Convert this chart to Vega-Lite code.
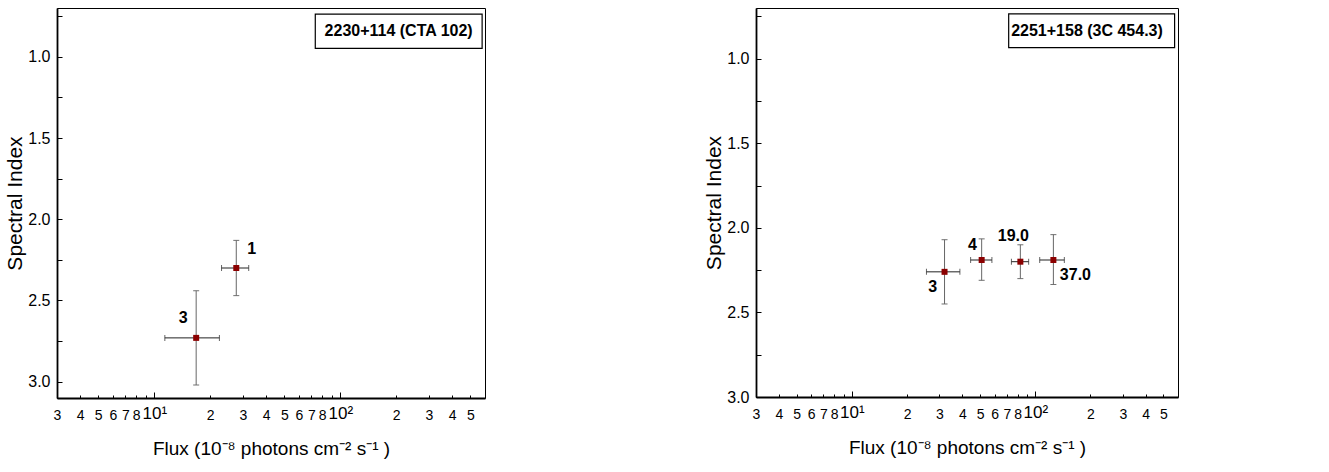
{
  "$schema": "https://vega.github.io/schema/vega-lite/v6.json",
  "background": "white",
  "padding": {"left": 4, "top": 7, "right": 5, "bottom": 5},
  "spacing": 217,
  "config": {
    "view": {"stroke": "black", "strokeWidth": 1},
    "font": "Liberation Sans",
    "axis": {
      "grid": false, "domainColor": "black", "domainWidth": 1.8, "tickColor": "black", "tickWidth": 1,
      "labelColor": "black", "titleColor": "black", "labelFont": "Liberation Sans", "titleFont": "Liberation Sans",
      "titleFontWeight": "normal", "labelOverlap": false, "labelFlush": false
    },
    "axisX": {"titleFontSize": 19, "titlePadding": 17, "labelPadding": 13},
    "axisY": {"titleFontSize": 21, "titlePadding": 2, "labelPadding": 12, "labelFontSize": 16, "tickSize": -5}
  },
  "datasets": {
    "cta": [
      {"flux": 27.6, "flux_lo": 23.0, "flux_hi": 32.2, "index": 2.30, "idx_lo": 2.13, "idx_hi": 2.47, "label": "1", "lx": 33.4, "ly": 2.18},
      {"flux": 16.8, "flux_lo": 11.4, "flux_hi": 22.4, "index": 2.73, "idx_lo": 2.44, "idx_hi": 3.02, "label": "3", "lx": 14.3, "ly": 2.61}
    ],
    "c3": [
      {"flux": 32.0, "flux_lo": 25.5, "flux_hi": 38.8, "index": 2.26, "idx_lo": 2.07, "idx_hi": 2.45, "label": "3", "lx": 27.6, "ly": 2.35},
      {"flux": 51.0, "flux_lo": 44.4, "flux_hi": 58.0, "index": 2.19, "idx_lo": 2.065, "idx_hi": 2.31, "label": "4", "lx": 45.4, "ly": 2.10},
      {"flux": 82.9, "flux_lo": 74.1, "flux_hi": 92.0, "index": 2.20, "idx_lo": 2.10, "idx_hi": 2.30, "label": "19.0", "lx": 75.9, "ly": 2.05},
      {"flux": 125.5, "flux_lo": 105.7, "flux_hi": 144.0, "index": 2.19, "idx_lo": 2.04, "idx_hi": 2.335, "label": "37.0", "lx": 165.5, "ly": 2.28}
    ],
    "box1": [{"name": "2230+114 (CTA 102)", "bx1": 73.4, "bx2": 579, "by1": 0.738, "by2": 0.948, "tx": 206, "ty": 0.843}],
    "box2": [{"name": "2251+158 (3C 454.3)", "bx1": 71.6, "bx2": 575, "by1": 0.735, "by2": 0.934, "tx": 191.4, "ty": 0.835}]
  },
  "hconcat": [
    {
      "width": 428, "height": 390,
      "layer": [
        {
          "data": {"name": "cta"},
          "mark": {"type": "errorbar", "color": "#222", "ticks": {"size": 6, "color": "#222"}},
          "encoding": {
            "x": {"field": "flux_lo", "type": "quantitative", "title": "Flux  (10⁻⁸ photons  cm⁻² s⁻¹ )",
              "scale": {"type": "log", "domain": [3, 600], "nice": false},
              "axis": {
                "values": [3,4,5,6,7,8,9,10,20,30,40,50,60,70,80,90,100,200,300,400,500],
                "labelExpr": "datum.value == 10 ? '10¹' : datum.value == 100 ? '10²' : (datum.value == 9 || datum.value == 90) ? '' : toString(round(datum.value / pow(10, floor(log(datum.value) / LN10 + 1e-9))))",
                "labelFontSize": {"condition": {"test": "datum.value == 10 || datum.value == 100", "value": 17}, "value": 14},
                "tickSize": {"condition": {"test": "datum.value == 10 || datum.value == 100", "value": -6}, "value": -3}
              }
            },
            "x2": {"field": "flux_hi"},
            "y": {"field": "index", "type": "quantitative", "title": "Spectral Index",
              "scale": {"domain": [0.7, 3.1], "reverse": true, "zero": false, "nice": false},
              "axis": {
                "values": [0.75,1,1.25,1.5,1.75,2,2.25,2.5,2.75,3],
                "labelExpr": "datum.value * 2 % 1 == 0 ? format(datum.value, '.1f') : ''"
              }
            }
          }
        },
        {
          "data": {"name": "cta"},
          "mark": {"type": "errorbar", "color": "#666", "ticks": {"size": 6, "color": "#333"}},
          "encoding": {
            "y": {"field": "idx_lo", "type": "quantitative", "title": "Spectral Index", "scale": {"domain": [0.7, 3.1], "reverse": true, "zero": false, "nice": false}},
            "y2": {"field": "idx_hi"},
            "x": {"field": "flux", "type": "quantitative", "title": "Flux  (10⁻⁸ photons  cm⁻² s⁻¹ )", "scale": {"type": "log", "domain": [3, 600], "nice": false}}
          }
        },
        {
          "data": {"name": "cta"},
          "mark": {"type": "point", "shape": "square", "filled": true, "color": "#8B0000", "size": 36, "opacity": 1},
          "encoding": {
            "x": {"field": "flux", "type": "quantitative", "title": "Flux  (10⁻⁸ photons  cm⁻² s⁻¹ )", "scale": {"type": "log", "domain": [3, 600], "nice": false}},
            "y": {"field": "index", "type": "quantitative", "title": "Spectral Index", "scale": {"domain": [0.7, 3.1], "reverse": true, "zero": false, "nice": false}}
          }
        },
        {
          "data": {"name": "cta"},
          "mark": {"type": "text", "fontWeight": "bold", "fontSize": 16, "align": "center", "baseline": "middle", "color": "black"},
          "encoding": {
            "x": {"field": "lx", "type": "quantitative", "title": "Flux  (10⁻⁸ photons  cm⁻² s⁻¹ )", "scale": {"type": "log", "domain": [3, 600], "nice": false}},
            "y": {"field": "ly", "type": "quantitative", "title": "Spectral Index", "scale": {"domain": [0.7, 3.1], "reverse": true, "zero": false, "nice": false}},
            "text": {"field": "label"}
          }
        },
        {
          "data": {"name": "box1"},
          "mark": {"type": "rect", "fill": "white", "stroke": "black", "strokeWidth": 1.2},
          "encoding": {
            "x": {"field": "bx1", "type": "quantitative", "title": "Flux  (10⁻⁸ photons  cm⁻² s⁻¹ )", "scale": {"type": "log", "domain": [3, 600], "nice": false}},
            "x2": {"field": "bx2"},
            "y": {"field": "by1", "type": "quantitative", "title": "Spectral Index", "scale": {"domain": [0.7, 3.1], "reverse": true, "zero": false, "nice": false}},
            "y2": {"field": "by2"}
          }
        },
        {
          "data": {"name": "box1"},
          "mark": {"type": "text", "fontWeight": "bold", "fontSize": 16, "align": "center", "baseline": "middle", "color": "black"},
          "encoding": {
            "x": {"field": "tx", "type": "quantitative", "title": "Flux  (10⁻⁸ photons  cm⁻² s⁻¹ )", "scale": {"type": "log", "domain": [3, 600], "nice": false}},
            "y": {"field": "ty", "type": "quantitative", "title": "Spectral Index", "scale": {"domain": [0.7, 3.1], "reverse": true, "zero": false, "nice": false}},
            "text": {"field": "name"}
          }
        }
      ]
    },
    {
      "width": 422, "height": 389,
      "layer": [
        {
          "data": {"name": "c3"},
          "mark": {"type": "errorbar", "color": "#222", "ticks": {"size": 6, "color": "#222"}},
          "encoding": {
            "x": {"field": "flux_lo", "type": "quantitative", "title": "Flux  (10⁻⁸ photons  cm⁻² s⁻¹ )",
              "scale": {"type": "log", "domain": [3, 600], "nice": false},
              "axis": {
                "values": [3,4,5,6,7,8,9,10,20,30,40,50,60,70,80,90,100,200,300,400,500],
                "labelExpr": "datum.value == 10 ? '10¹' : datum.value == 100 ? '10²' : (datum.value == 9 || datum.value == 90) ? '' : toString(round(datum.value / pow(10, floor(log(datum.value) / LN10 + 1e-9))))",
                "labelFontSize": {"condition": {"test": "datum.value == 10 || datum.value == 100", "value": 17}, "value": 14},
                "tickSize": {"condition": {"test": "datum.value == 10 || datum.value == 100", "value": -6}, "value": -3}
              }
            },
            "x2": {"field": "flux_hi"},
            "y": {"field": "index", "type": "quantitative", "title": "Spectral Index",
              "scale": {"domain": [0.7, 3.0], "reverse": true, "zero": false, "nice": false},
              "axis": {
                "values": [0.75,1,1.25,1.5,1.75,2,2.25,2.5,2.75,3],
                "labelExpr": "datum.value * 2 % 1 == 0 ? format(datum.value, '.1f') : ''"
              }
            }
          }
        },
        {
          "data": {"name": "c3"},
          "mark": {"type": "errorbar", "color": "#666", "ticks": {"size": 6, "color": "#333"}},
          "encoding": {
            "y": {"field": "idx_lo", "type": "quantitative", "title": "Spectral Index", "scale": {"domain": [0.7, 3.0], "reverse": true, "zero": false, "nice": false}},
            "y2": {"field": "idx_hi"},
            "x": {"field": "flux", "type": "quantitative", "title": "Flux  (10⁻⁸ photons  cm⁻² s⁻¹ )", "scale": {"type": "log", "domain": [3, 600], "nice": false}}
          }
        },
        {
          "data": {"name": "c3"},
          "mark": {"type": "point", "shape": "square", "filled": true, "color": "#8B0000", "size": 36, "opacity": 1},
          "encoding": {
            "x": {"field": "flux", "type": "quantitative", "title": "Flux  (10⁻⁸ photons  cm⁻² s⁻¹ )", "scale": {"type": "log", "domain": [3, 600], "nice": false}},
            "y": {"field": "index", "type": "quantitative", "title": "Spectral Index", "scale": {"domain": [0.7, 3.0], "reverse": true, "zero": false, "nice": false}}
          }
        },
        {
          "data": {"name": "c3"},
          "mark": {"type": "text", "fontWeight": "bold", "fontSize": 16, "align": "center", "baseline": "middle", "color": "black"},
          "encoding": {
            "x": {"field": "lx", "type": "quantitative", "title": "Flux  (10⁻⁸ photons  cm⁻² s⁻¹ )", "scale": {"type": "log", "domain": [3, 600], "nice": false}},
            "y": {"field": "ly", "type": "quantitative", "title": "Spectral Index", "scale": {"domain": [0.7, 3.0], "reverse": true, "zero": false, "nice": false}},
            "text": {"field": "label"}
          }
        },
        {
          "data": {"name": "box2"},
          "mark": {"type": "rect", "fill": "white", "stroke": "black", "strokeWidth": 1.2},
          "encoding": {
            "x": {"field": "bx1", "type": "quantitative", "title": "Flux  (10⁻⁸ photons  cm⁻² s⁻¹ )", "scale": {"type": "log", "domain": [3, 600], "nice": false}},
            "x2": {"field": "bx2"},
            "y": {"field": "by1", "type": "quantitative", "title": "Spectral Index", "scale": {"domain": [0.7, 3.0], "reverse": true, "zero": false, "nice": false}},
            "y2": {"field": "by2"}
          }
        },
        {
          "data": {"name": "box2"},
          "mark": {"type": "text", "fontWeight": "bold", "fontSize": 16, "align": "center", "baseline": "middle", "color": "black"},
          "encoding": {
            "x": {"field": "tx", "type": "quantitative", "title": "Flux  (10⁻⁸ photons  cm⁻² s⁻¹ )", "scale": {"type": "log", "domain": [3, 600], "nice": false}},
            "y": {"field": "ty", "type": "quantitative", "title": "Spectral Index", "scale": {"domain": [0.7, 3.0], "reverse": true, "zero": false, "nice": false}},
            "text": {"field": "name"}
          }
        }
      ]
    }
  ]
}
